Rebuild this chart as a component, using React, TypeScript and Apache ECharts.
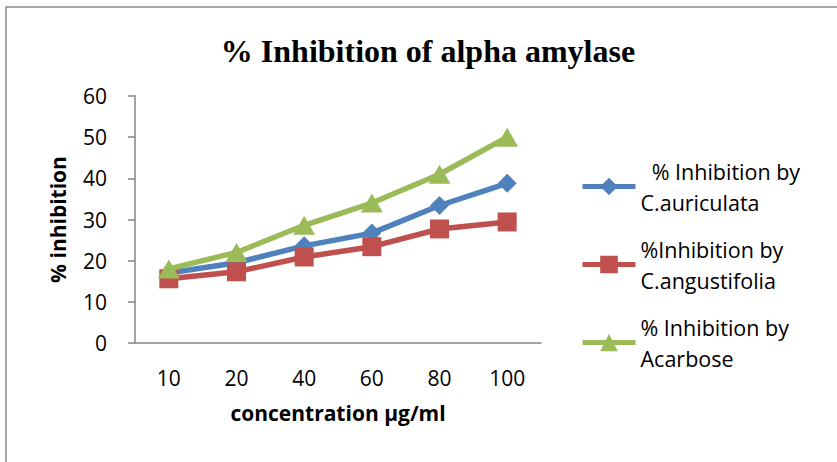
import React, { useEffect, useRef } from "react";
import * as echarts from "echarts";

const categories = ["10", "20", "40", "60", "80", "100"];
const auriculata = [17.0, 19.5, 23.6, 26.7, 33.4, 38.8];
const angustifolia = [15.6, 17.3, 20.9, 23.4, 27.7, 29.4];
const acarbose = [18.0, 22.0, 28.6, 34.0, 41.0, 50.0];
const seriesNames = [
  "  % Inhibition by\nC.auriculata",
  "%Inhibition by\nC.angustifolia",
  "% Inhibition by\nAcarbose",
];
const colors = ["#4F81BD", "#C0504D", "#9BBB59"];
const symbols = ["diamond", "rect", "triangle"];
const symbolSizes: (number | number[])[] = [19, 19, [22, 19]];

const FONT = "Open Sans";

export default function App() {
  const ref = useRef<HTMLDivElement>(null);
  useEffect(() => {
    document.body.style.margin = "0";
    const chart = echarts.init(ref.current!, null, { renderer: "svg" });
    const dataSets = [auriculata, angustifolia, acarbose];
    const legendTops = [140, 218, 296];
    chart.setOption({
      animation: false,
      backgroundColor: "#ffffff",
      title: {
        text: "% Inhibition of alpha amylase",
        left: 423,
        top: 30,
        textAlign: "center",
        textStyle: {
          fontFamily: "Liberation Serif",
          fontWeight: "bold",
          fontSize: 32,
          color: "#000",
        },
      },
      graphic: [
        {
          type: "polyline",
          shape: { points: [[6, 470], [6, 7], [845, 7]] },
          style: { stroke: "#8c8c8c", lineWidth: 1.5, fill: "none" },
          silent: true,
        },
      ],
      legend: seriesNames.map((n, i) => ({
        data: [n],
        orient: "vertical",
        left: 580,
        top: legendTops[i],
        padding: 0,
        itemWidth: 53,
        itemHeight: 22,
        itemGap: 0,
        selectedMode: false,
        lineStyle: { width: 5 },
        textStyle: {
          fontFamily: FONT,
          fontSize: 21.5,
          color: "#000",
          lineHeight: 31,
          padding: [31, 0, 0, 0],
        },
      })),
      grid: { left: 135, right: 296, top: 96, bottom: 119 },
      xAxis: {
        type: "category",
        data: categories,
        boundaryGap: true,
        axisLine: { lineStyle: { color: "#868686", width: 1.5 } },
        axisTick: { show: false },
        axisLabel: { fontFamily: FONT, fontSize: 21, color: "#000", margin: 24 },
        name: "concentration µg/ml",
        nameLocation: "middle",
        nameGap: 59,
        nameTextStyle: { fontFamily: FONT, fontWeight: "bold", fontSize: 21, color: "#000" },
      },
      yAxis: {
        type: "value",
        min: 0,
        max: 60,
        interval: 10,
        splitLine: { show: false },
        axisLine: { show: true, lineStyle: { color: "#868686", width: 1.5 } },
        axisTick: { show: true, length: 7, lineStyle: { color: "#868686", width: 1.5 } },
        axisLabel: { fontFamily: FONT, fontSize: 21, color: "#000", margin: 28 },
        name: "% inhibition",
        nameLocation: "middle",
        nameGap: 67,
        nameTextStyle: { fontFamily: FONT, fontWeight: "bold", fontSize: 21, color: "#000" },
      },
      series: dataSets.map((d, i) => ({
        name: seriesNames[i],
        type: "line",
        data: d,
        symbol: symbols[i],
        symbolSize: symbolSizes[i],
        showSymbol: true,
        itemStyle: { color: colors[i] },
        lineStyle: { color: colors[i], width: 5.5 },
        z: 2 + i,
      })),
    });
    return () => chart.dispose();
  }, []);
  return (
    <div
      ref={ref}
      style={{ position: "absolute", left: 0, top: 0, width: 837, height: 462 }}
    />
  );
}
